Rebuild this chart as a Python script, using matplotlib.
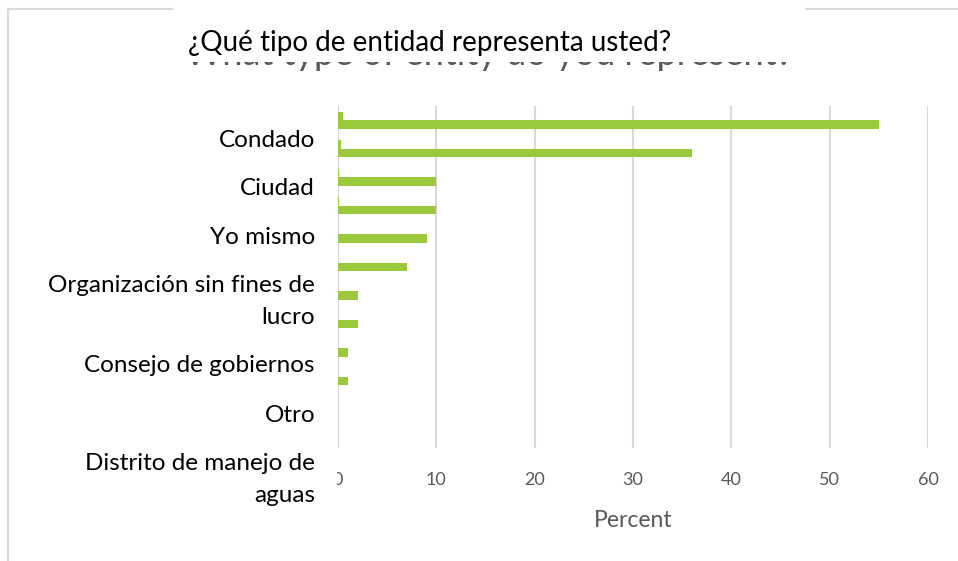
import numpy as np
import matplotlib
matplotlib.use("Agg")
import matplotlib.pyplot as plt
from matplotlib.patches import Rectangle
from matplotlib.lines import Line2D

plt.rcParams['font.family'] = ['Lato', 'DejaVu Sans']

# ---------- data ----------
groups = np.arange(12)
series_top = [0.5, 0.3, 0.1, 0.1, 0, 0, 0, 0, 0, 0, 0, 0]
series_bottom = [55, 36, 10, 10, 9, 7, 2, 2, 1, 1, 0, 0]
x_ticks = [0, 10, 20, 30, 40, 50, 60]

title_es = "¿Qué tipo de entidad representa usted?"
title_en = "What type of entity do you represent?"
# spanish overlay labels, one entry per text line, with baseline rows (px)
label_lines = ["Condado", "Ciudad", "Yo mismo", "Organización sin fines de", "lucro",
               "Consejo de gobiernos", "Otro", "Distrito de manejo de", "aguas"]
label_base = [147, 195, 244, 292, 324, 372, 422, 470, 502]

green = '#9BC93D'
grid_c = '#D9D9D9'
text_c = '#595959'

W, H = 958, 561
fig = plt.figure(figsize=(W / 100, H / 100), dpi=100)
ax = fig.add_axes([338 / W, 1 - 448 / H, 590 / W, 342 / H])

h = 0.3
ax.barh(groups - h / 2, series_top, height=h, color=green, zorder=3)
ax.barh(groups + h / 2, series_bottom, height=h, color=green, zorder=3)

ax.set_xlim(0, 60)
ax.set_ylim(11.5, -0.5)
ax.set_xticks(x_ticks)
ax.set_yticks([])
ax.tick_params(axis='x', length=0, labelsize=13, labelcolor=text_c, pad=17)
ax.xaxis.grid(True, color=grid_c, linewidth=1.5, zorder=0)
for s in ax.spines.values():
    s.set_visible(False)
ax.set_xlabel("Percent", fontsize=16.5, color=text_c)
ax.xaxis.set_label_coords(0.5, -0.18)

# ---------- chart frame ----------
px = lambda x: x / W
py = lambda y: 1 - y / H
fig.add_artist(Line2D([px(8), px(8)], [py(9), py(561)], color=grid_c, lw=1.5))
fig.add_artist(Line2D([px(8), px(958)], [py(9), py(9)], color=grid_c, lw=1.5))

# original english title, mostly covered
fig.text(px(489), py(65), title_en, ha='center', va='baseline',
         fontsize=26, color=text_c, zorder=1)

# white overlays
fig.add_artist(Rectangle((px(173), py(62)), px(805) - px(173), 62 / H,
                         facecolor='white', edgecolor='none', zorder=5))
fig.add_artist(Rectangle((px(12), py(548)), px(336.5) - px(12), 448 / H,
                         facecolor='white', edgecolor='none', zorder=5))

# spanish texts
fig.text(px(188), py(51), title_es, ha='left', va='baseline',
         fontsize=20, color='black', zorder=6)
for lab, y in zip(label_lines, label_base):
    fig.text(px(315), py(y), lab, ha='right', va='baseline', fontsize=17.5,
             color='black', zorder=6)

fig.savefig("out.png", dpi=100)
